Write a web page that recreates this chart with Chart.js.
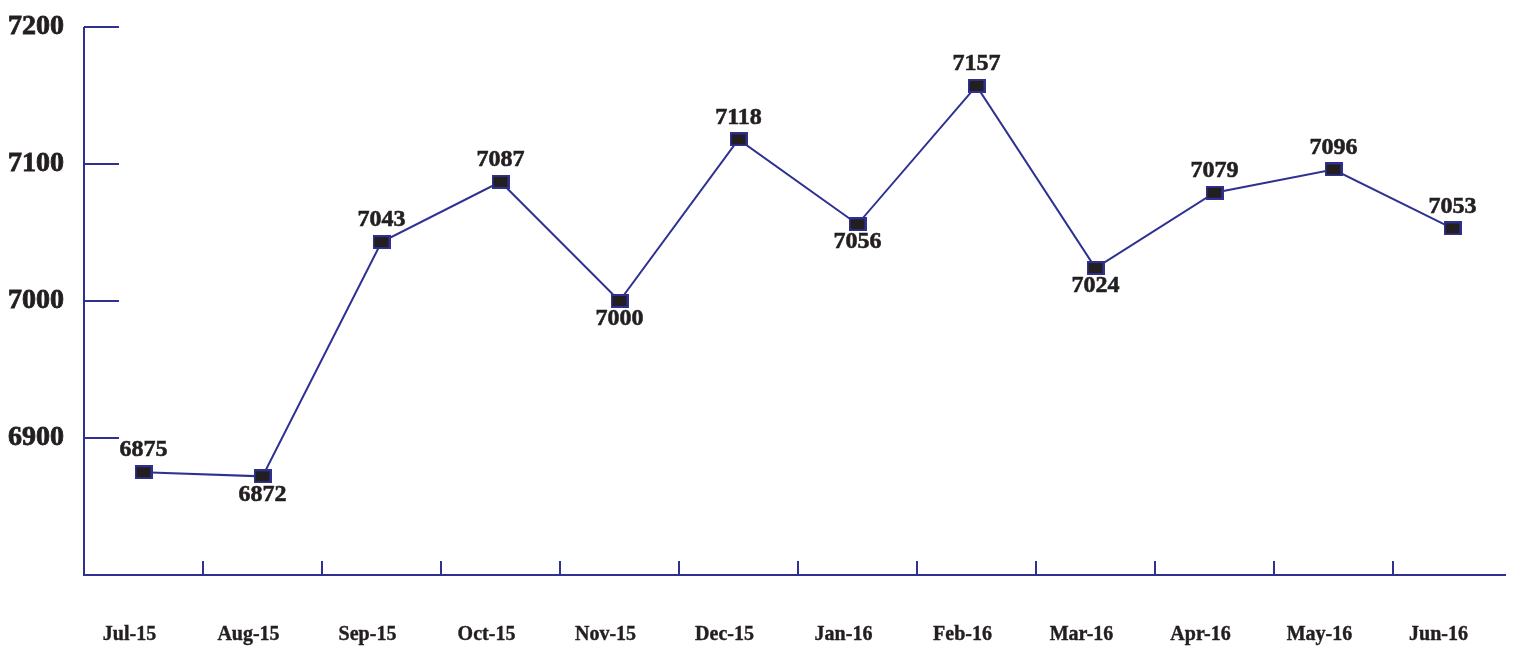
<!DOCTYPE html>
<html>
<head>
<meta charset="utf-8">
<script src="https://cdn.jsdelivr.net/npm/chart.js@4"></script>
<style>
html,body{margin:0;padding:0;background:#fff;}
#wrap{width:1514px;height:648px;}
</style>
</head>
<body>
<div id="wrap"><canvas id="c" width="1514" height="648"></canvas></div>
<script>
const categories = ['Jul-15','Aug-15','Sep-15','Oct-15','Nov-15','Dec-15','Jan-16','Feb-16','Mar-16','Apr-16','May-16','Jun-16'];
const values = [6875, 6872, 7043, 7087, 7000, 7118, 7056, 7157, 7024, 7079, 7096, 7053];
const yTicks = [6800, 6900, 7000, 7100, 7200];

const NAVY = '#2E3192';
const INK = '#231F20';
const SERIF = '"Liberation Serif"';

// label placement (style only): 'a' above, 'b' below
const placement = ['a','b','a','a','b','a','b','a','b','a','a','a'];

const marker = document.createElement('canvas');
marker.width = 18; marker.height = 14;
(function(){
  const g = marker.getContext('2d');
  g.fillStyle = NAVY; g.fillRect(0,0,18,14);
  g.fillStyle = INK; g.fillRect(2,2,14,10);
})();

const decor = {
  id: 'decor',
  afterDraw(chart) {
    const ctx = chart.ctx;
    const x = chart.scales.x, y = chart.scales.y;
    const a = chart.chartArea;
    ctx.save();
    ctx.strokeStyle = NAVY;
    ctx.lineWidth = 2;
    ctx.beginPath();
    ctx.moveTo(a.left, a.top); ctx.lineTo(a.left, a.bottom);
    ctx.lineTo(a.right - 6, a.bottom);
    ctx.stroke();
    yTicks.forEach(v => {
      if (v === yTicks[0]) return;
      const py = Math.round(y.getPixelForValue(v));
      ctx.beginPath(); ctx.moveTo(a.left, py); ctx.lineTo(a.left + 35, py); ctx.stroke();
    });
    for (let i = 1; i < categories.length; i++) {
      const px = Math.round((x.getPixelForValue(i - 1) + x.getPixelForValue(i)) / 2);
      ctx.beginPath(); ctx.moveTo(px, a.bottom); ctx.lineTo(px, a.bottom - 14); ctx.stroke();
    }
    ctx.restore();
  }
};

const labels = {
  id: 'vlabels',
  afterDatasetsDraw(chart) {
    const ctx = chart.ctx;
    const meta = chart.getDatasetMeta(0);
    ctx.save();
    ctx.font = 'bold 24px ' + SERIF;
    ctx.fillStyle = INK;
    ctx.strokeStyle = INK;
    ctx.lineWidth = 0.6;
    ctx.textAlign = 'center';
    ctx.textBaseline = 'middle';
    meta.data.forEach((pt, i) => {
      const dy = placement[i] === 'a' ? -22 : 18;
      ctx.fillText(String(values[i]), pt.x, pt.y + dy);
      ctx.strokeText(String(values[i]), pt.x, pt.y + dy);
    });
    ctx.restore();
  }
};

new Chart(document.getElementById('c'), {
  type: 'line',
  data: {
    labels: categories,
    datasets: [{
      data: values,
      borderColor: NAVY,
      borderWidth: 2,
      pointStyle: marker,
      pointRadius: 8,
      pointHoverRadius: 8,
      tension: 0,
      fill: false
    }]
  },
  options: {
    responsive: false,
    animation: false,
    devicePixelRatio: 1,
    layout: { autoPadding: false, padding: { top: 0, right: 2, left: 0, bottom: 0 } },
    plugins: { legend: { display: false }, tooltip: { enabled: false } },
    scales: {
      x: {
        offset: true,
        grid: { display: false, drawTicks: false },
        border: { display: false },
        afterFit(scale) { scale.height = 73; scale.paddingLeft = 0; scale.paddingRight = 0; },
        ticks: {
          font: { family: SERIF, size: 20, weight: 'bold' },
          color: INK,
          textStrokeColor: INK,
          textStrokeWidth: 0.4,
          padding: 48,
          labelOffset: -14,
          maxRotation: 0,
          autoSkip: false
        }
      },
      y: {
        min: yTicks[0],
        max: yTicks[yTicks.length - 1],
        afterBuildTicks(scale) { scale.ticks = yTicks.map(v => ({ value: v })); },
        afterFit(scale) { scale.width = 84; scale.paddingTop = 27; scale.paddingBottom = 0; },
        grid: { display: false, drawTicks: false },
        border: { display: false },
        ticks: {
          font: { family: SERIF, size: 28, weight: 'bold' },
          color: INK,
          textStrokeColor: INK,
          textStrokeWidth: 0.8,
          padding: 20,
          callback: (v) => v === yTicks[0] ? '' : String(v)
        }
      }
    }
  },
  plugins: [decor, labels]
});
</script>
</body>
</html>
